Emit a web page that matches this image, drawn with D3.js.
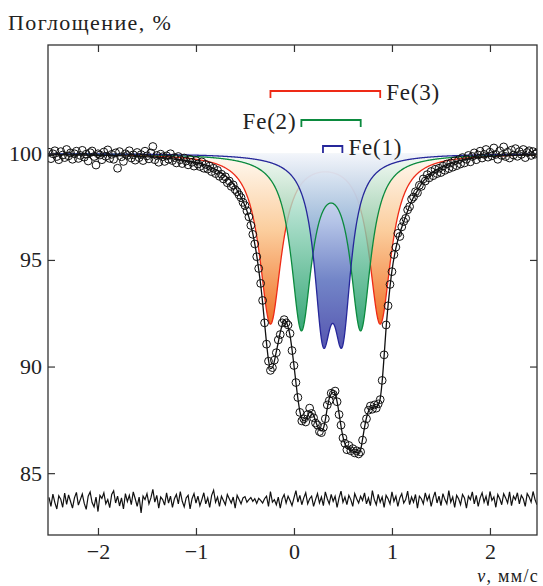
<!DOCTYPE html>
<meta charset="utf-8">
<style>
body { margin: 0; background: #fff; }
text { font-family: "Liberation Serif", "DejaVu Serif", serif; fill: #222; }
</style>
<svg width="543" height="586"></svg>
<script src="https://d3js.org/d3.v7.min.js"></script>
<script>

// velocity channels: start and step (mm/s)
var vStart = -2.5, vStep = 0.02;

// measured absorption, % (one value per channel)
var absorption = [
  100.05, 99.75, 99.98, 100.12, 99.85, 99.70, 100.08, 99.92, 99.80, 100.18,
  99.88, 100.02, 99.72, 99.98, 100.10, 99.76, 99.90, 100.14, 99.82, 99.96,
  99.64, 100.03, 100.11, 99.85, 99.45, 99.98, 99.92, 99.70, 100.06, 99.86,
  100.16, 99.76, 99.95, 99.72, 100.02, 99.30, 100.08, 99.84, 99.62, 99.98,
  99.90, 100.12, 99.78, 99.93, 99.68, 100.04, 99.80, 99.94, 99.66, 100.10,
  99.88, 99.74, 100.02, 100.32, 99.70, 99.90, 99.58, 99.96, 99.84, 99.62,
  99.88, 99.72, 99.98, 99.66, 99.80, 99.55, 99.85, 99.70, 99.52, 99.78,
  99.64, 99.46, 99.72, 99.58, 99.40, 99.66, 99.50, 99.38, 99.60, 99.30,
  99.48, 99.26, 99.40, 99.14, 99.30, 99.05, 99.20, 98.92, 99.02, 98.80,
  98.90, 98.62, 98.70, 98.45, 98.52, 98.30, 98.20, 98.05, 97.92, 97.70,
  97.55, 97.30, 97.02, 96.62, 96.20, 95.75, 95.15, 94.60, 93.90, 93.10,
  92.05, 91.05, 90.25, 89.82, 89.95, 90.30, 90.65, 91.25, 91.50, 92.05,
  92.20, 92.05, 91.95, 91.55, 90.75, 90.05, 89.25, 88.55, 87.85, 87.45,
  87.55, 87.40, 87.75, 88.05, 87.80, 87.60, 87.35, 87.25, 86.95, 86.90,
  87.15, 87.55, 88.20, 88.40, 88.75, 88.70, 88.85, 88.35, 87.75, 87.25,
  86.65, 86.40, 86.10, 86.30, 86.05, 86.15, 85.95, 86.05, 85.90, 86.00,
  86.55, 87.25, 87.55, 87.95, 88.15, 88.00, 88.20, 88.05, 88.25, 88.45,
  89.35, 90.55, 91.95, 92.85, 93.85, 94.45, 95.25, 95.60, 96.25, 96.10,
  96.55, 96.80, 96.95, 97.35, 97.50, 97.85, 97.95, 98.20, 98.15, 98.50,
  98.45, 98.80, 98.70, 99.00, 98.85, 99.15, 98.95, 99.25, 99.05, 99.30,
  99.10, 99.40, 99.20, 99.50, 99.28, 99.55, 99.35, 99.65, 99.42, 99.70,
  99.50, 99.80, 99.55, 99.72, 99.90, 99.60, 99.85, 100.02, 99.70, 99.92,
  100.10, 99.78, 99.95, 100.18, 99.82, 100.05, 99.88, 100.25, 99.95, 99.72,
  100.12, 99.90, 100.30, 99.85, 100.05, 99.78, 100.15, 99.92, 100.22, 99.86,
  100.08, 99.95, 100.18, 99.80, 100.04, 100.12, 99.90, 100.08, 99.96, 100.02
];

// residuals of the fit, % (one value per channel)
var residual = [
  0.15, -0.28, 0.30, -0.10, -0.40, 0.22, 0.06, -0.32, 0.35, -0.18,
  0.26, -0.05, -0.36, 0.12, 0.38, -0.22, 0.04, 0.30, -0.14, -0.42,
  0.20, 0.40, -0.10, -0.30, 0.16, -0.52, 0.24, 0.10, 0.36, -0.16,
  0.04, -0.34, 0.28, 0.45, -0.12, 0.20, -0.26, 0.12, -0.40, 0.32,
  -0.05, 0.24, -0.20, 0.40, 0.08, -0.28, 0.16, -0.58, 0.20, 0.04,
  0.32, -0.16, 0.12, 0.52, -0.08, 0.24, -0.36, 0.16, 0.04, -0.22,
  0.36, -0.12, 0.20, -0.32, 0.08, 0.28, -0.16, 0.42, -0.04, -0.30,
  0.12, 0.24, -0.40, 0.08, 0.32, -0.12, 0.20, -0.24, 0.04, 0.36,
  -0.16, 0.12, -0.32, 0.24, 0.48, -0.08, 0.16, -0.28, 0.20, 0.00,
  -0.20, 0.28, 0.08, -0.12, 0.16, -0.36, 0.24, 0.04, -0.16, 0.12,
  0.18, -0.08, 0.04, 0.14, -0.04, 0.08, -0.14, 0.10, 0.00, -0.12,
  0.08, 0.20, -0.28, 0.42, -0.08, 0.04, -0.20, 0.16, -0.36, 0.08,
  0.28, -0.12, 0.20, 0.00, -0.24, 0.12, 0.46, -0.08, 0.24, -0.20,
  0.12, 0.36, -0.16, 0.08, 0.20, -0.28, 0.04, 0.32, -0.12, 0.16,
  -0.24, 0.40, 0.08, -0.16, 0.28, -0.04, 0.20, -0.32, 0.12, 0.44,
  -0.08, 0.16, -0.20, 0.24, 0.04, -0.28, 0.32, 0.08, -0.12, 0.20,
  0.00, 0.36, -0.16, 0.12, -0.24, 0.46, 0.04, -0.20, 0.28, -0.08,
  0.16, -0.32, 0.24, 0.08, -0.16, 0.40, -0.04, 0.20, -0.28, 0.12,
  0.32, -0.12, 0.04, 0.44, -0.20, 0.16, -0.08, 0.28, -0.36, 0.20,
  0.08, -0.16, 0.36, 0.00, 0.24, -0.28, 0.12, 0.40, -0.12, 0.20,
  -0.24, 0.32, 0.04, -0.16, 0.46, -0.08, 0.16, -0.32, 0.24, 0.08,
  -0.20, 0.28, 0.12, -0.36, 0.20, 0.04, 0.40, -0.16, 0.24, -0.28,
  0.12, 0.36, -0.08, 0.20, -0.24, 0.42, 0.00, 0.16, -0.32, 0.28,
  0.08, -0.20, 0.32, 0.12, -0.12, 0.40, -0.24, 0.20, 0.04, 0.36,
  -0.16, 0.24, 0.08, -0.28, 0.32, 0.16, -0.08, 0.42, 0.04, -0.20
];

// fitted envelope
var fitV = [-2.5, -2.2, -2.0, -1.8, -1.6, -1.4, -1.2, -1.1, -1.0, -0.9, -0.8, -0.7, -0.64, -0.6, -0.56, -0.52, -0.48, -0.44,
  -0.40, -0.38, -0.36, -0.34, -0.32, -0.30, -0.28, -0.26, -0.24, -0.22, -0.20, -0.18, -0.16, -0.14, -0.12, -0.10, -0.08, -0.06, -0.04, -0.02,
  0.00, 0.02, 0.04, 0.06, 0.08, 0.10, 0.12, 0.14, 0.16, 0.18, 0.20, 0.22, 0.24, 0.26, 0.28, 0.30, 0.32, 0.34, 0.36, 0.38,
  0.40, 0.42, 0.44, 0.46, 0.48, 0.50, 0.52, 0.54, 0.56, 0.58, 0.60, 0.62, 0.64, 0.66, 0.68, 0.70, 0.72, 0.74, 0.76, 0.78,
  0.80, 0.82, 0.84, 0.86, 0.88, 0.90, 0.92, 0.94, 0.96, 0.98, 1.00, 1.04, 1.08, 1.12, 1.16, 1.20, 1.26, 1.32, 1.40, 1.50,
  1.60, 1.70, 1.80, 1.95, 2.10, 2.30, 2.48];
var fitY = [99.93, 99.92, 99.91, 99.89, 99.86, 99.81, 99.73, 99.66, 99.57, 99.44, 99.25, 98.95, 98.70, 98.42, 98.10, 97.75, 97.30, 96.65,
  95.75, 95.20, 94.55, 93.85, 93.00, 92.05, 91.10, 90.30, 89.90, 89.95, 90.25, 90.70, 91.15, 91.60, 91.95, 92.15, 92.10, 91.85, 91.45, 90.80,
  90.05, 89.25, 88.50, 87.90, 87.55, 87.45, 87.50, 87.70, 87.85, 87.85, 87.70, 87.45, 87.20, 87.02, 86.98, 87.10, 87.50, 88.05, 88.50, 88.72,
  88.80, 88.72, 88.35, 87.80, 87.20, 86.70, 86.38, 86.22, 86.15, 86.10, 86.05, 86.00, 85.97, 85.97, 86.10, 86.60, 87.15, 87.60, 87.90, 88.05,
  88.10, 88.10, 88.12, 88.20, 88.50, 89.30, 90.50, 91.80, 92.85, 93.75, 94.50, 95.55, 96.25, 96.80, 97.30, 97.75, 98.25, 98.70, 99.05, 99.35,
  99.55, 99.67, 99.75, 99.83, 99.88, 99.92, 99.94];

// doublet sub-spectra: line positions (mm/s), depth (%), half width (mm/s)
var names = ["Fe(1)", "Fe(2)", "Fe(3)"];
var lineCentres = [[0.296, 0.494], [0.0756, 0.681], [-0.24, 0.88]];
var lineDepths = [7.4, 8.0, 7.9];
var halfWidths = [0.107, 0.125, 0.135];

var xTicks = [-2, -1, 0, 1, 2];
var yTicks = [85, 90, 95, 100];

var svg = d3.select("svg");
var mLeft = 48, mRight = 537, mTop = 45, mBottom = 535;

var x = d3.scaleLinear().domain([-2.51, 2.48]).range([mLeft, mRight]);
var y = d3.scaleLinear().domain([82.1, 105.08]).range([mBottom, mTop]);

var strokeCol = ["#26279a", "#0b8a3e", "#ee2a16"];
var stops = [
  [["0", "#f2f4fc"], ["0.35", "#9fb3e0"], ["0.65", "#4b63b8"], ["1", "#27279a"]],
  [["0", "#f3fbf7"], ["0.4", "#8fd2b8"], ["1", "#079256"]],
  [["0", "#fffaf3"], ["0.45", "#fbcb98"], ["1", "#ef6a1e"]]
];
var fillOpacity = [0.78, 0.8, 0.95];

function doublet(k, v) {
  var s = 0;
  lineCentres[k].forEach(function (c) {
    var t = (v - c) / halfWidths[k];
    s += lineDepths[k] / (1 + t * t);
  });
  return 100 - s;
}

var grid = d3.range(-2.51, 2.481, 0.004);
var defs = svg.append("defs");
defs.append("clipPath").attr("id", "plot").append("rect")
  .attr("x", mLeft).attr("y", mTop).attr("width", mRight - mLeft).attr("height", mBottom - mTop);

names.forEach(function (n, k) {
  var vmin = d3.min(grid, function (v) { return doublet(k, v); });
  var g = defs.append("linearGradient").attr("id", "grad" + k)
    .attr("gradientUnits", "userSpaceOnUse")
    .attr("x1", 0).attr("x2", 0).attr("y1", y(100)).attr("y2", y(vmin));
  stops[k].forEach(function (s) { g.append("stop").attr("offset", s[0]).attr("stop-color", s[1]); });
});

var plot = svg.append("g").attr("clip-path", "url(#plot)");

function area(k) {
  return d3.area().x(function (v) { return x(v); })
    .y0(y(100)).y1(function (v) { return y(doublet(k, v)); })(grid);
}
function curve(k) {
  return d3.line().x(function (v) { return x(v); })
    .y(function (v) { return y(doublet(k, v)); })(grid);
}
function drawFill(k) {
  plot.append("path").attr("d", area(k)).attr("fill", "url(#grad" + k + ")").attr("fill-opacity", fillOpacity[k]);
}
function drawCurve(k) {
  plot.append("path").attr("d", curve(k)).attr("fill", "none").attr("stroke", strokeCol[k])
    .attr("stroke-width", 1.3);
}

drawFill(2);
drawCurve(2);
drawFill(1);
drawFill(0);
drawCurve(1);
drawCurve(0);

// residuals, shifted down under the spectrum
var resOffset = 83.72;
plot.append("path")
  .attr("d", d3.line()
    .x(function (r, i) { return x(vStart + i * vStep); })
    .y(function (r) { return y(resOffset + r); })(residual))
  .attr("fill", "none").attr("stroke", "#111").attr("stroke-width", 1.2);

// fit
plot.append("path")
  .attr("d", d3.line().curve(d3.curveMonotoneX)
    .x(function (v) { return x(v); })
    .y(function (v, i) { return y(fitY[i]); })(fitV))
  .attr("fill", "none").attr("stroke", "#111").attr("stroke-width", 1.3);

// measured points
plot.selectAll("circle.pt").data(absorption).enter().append("circle")
  .attr("class", "pt")
  .attr("cx", function (a, i) { return x(vStart + i * vStep); })
  .attr("cy", function (a) { return y(a); })
  .attr("r", 3.9)
  .attr("fill", "none").attr("stroke", "#111").attr("stroke-width", 1);

// brackets
var bracketY = [146, 120, 91];
var labelSide = ["right", "left", "right"];
names.forEach(function (n, k) {
  var x0 = x(lineCentres[k][0]), x1 = x(lineCentres[k][1]), yy = bracketY[k];
  svg.append("path")
    .attr("d", "M" + x0 + "," + (yy + 7) + "V" + yy + "H" + x1 + "V" + (yy + 7))
    .attr("fill", "none").attr("stroke", strokeCol[k]).attr("stroke-width", 1.8);
  svg.append("text")
    .attr("x", labelSide[k] == "right" ? x1 + 6 : x0 - 5)
    .attr("y", yy + 1)
    .attr("dy", "0.35em")
    .attr("text-anchor", labelSide[k] == "right" ? "start" : "end")
    .style("font-size", "23px").style("letter-spacing", "0.8px")
    .text(n);
});

// axes
function styleAxis(g) {
  g.select(".domain").remove();
  g.selectAll("line").attr("stroke", "#333").attr("stroke-width", 1.2);
  g.selectAll("text").style("font-size", "22px").attr("fill", "#222")
    .style("font-family", "'Liberation Serif', 'DejaVu Serif', serif");
}
svg.append("g").attr("transform", "translate(0," + mBottom + ")")
  .call(d3.axisBottom(x).tickValues(xTicks).tickSize(-7).tickPadding(8).tickFormat(d3.format("d")))
  .call(styleAxis);
svg.append("g").attr("transform", "translate(0," + mTop + ")")
  .call(d3.axisTop(x).tickValues(xTicks).tickSize(-7).tickFormat(""))
  .call(styleAxis);
svg.append("g").attr("transform", "translate(" + mLeft + ",0)")
  .call(d3.axisLeft(y).tickValues(yTicks).tickSize(-7).tickPadding(6).tickFormat(d3.format("d")))
  .call(styleAxis);
svg.append("g").attr("transform", "translate(" + mRight + ",0)")
  .call(d3.axisRight(y).tickValues(yTicks).tickSize(-7).tickFormat(""))
  .call(styleAxis);

svg.append("rect").attr("x", mLeft).attr("y", mTop).attr("width", mRight - mLeft).attr("height", mBottom - mTop)
  .attr("fill", "none").attr("stroke", "#333").attr("stroke-width", 1.3);

svg.append("text").attr("x", 8).attr("y", 30)
  .style("font-size", "22px").style("letter-spacing", "1.4px")
  .text("Поглощение, %");

var xl = svg.append("text").attr("x", 539).attr("y", 581.5).attr("text-anchor", "end")
  .style("font-size", "18px").style("letter-spacing", "1.3px");
xl.append("tspan").style("font-style", "italic").text("v");
xl.append("tspan").text(",  мм/с");

</script>
